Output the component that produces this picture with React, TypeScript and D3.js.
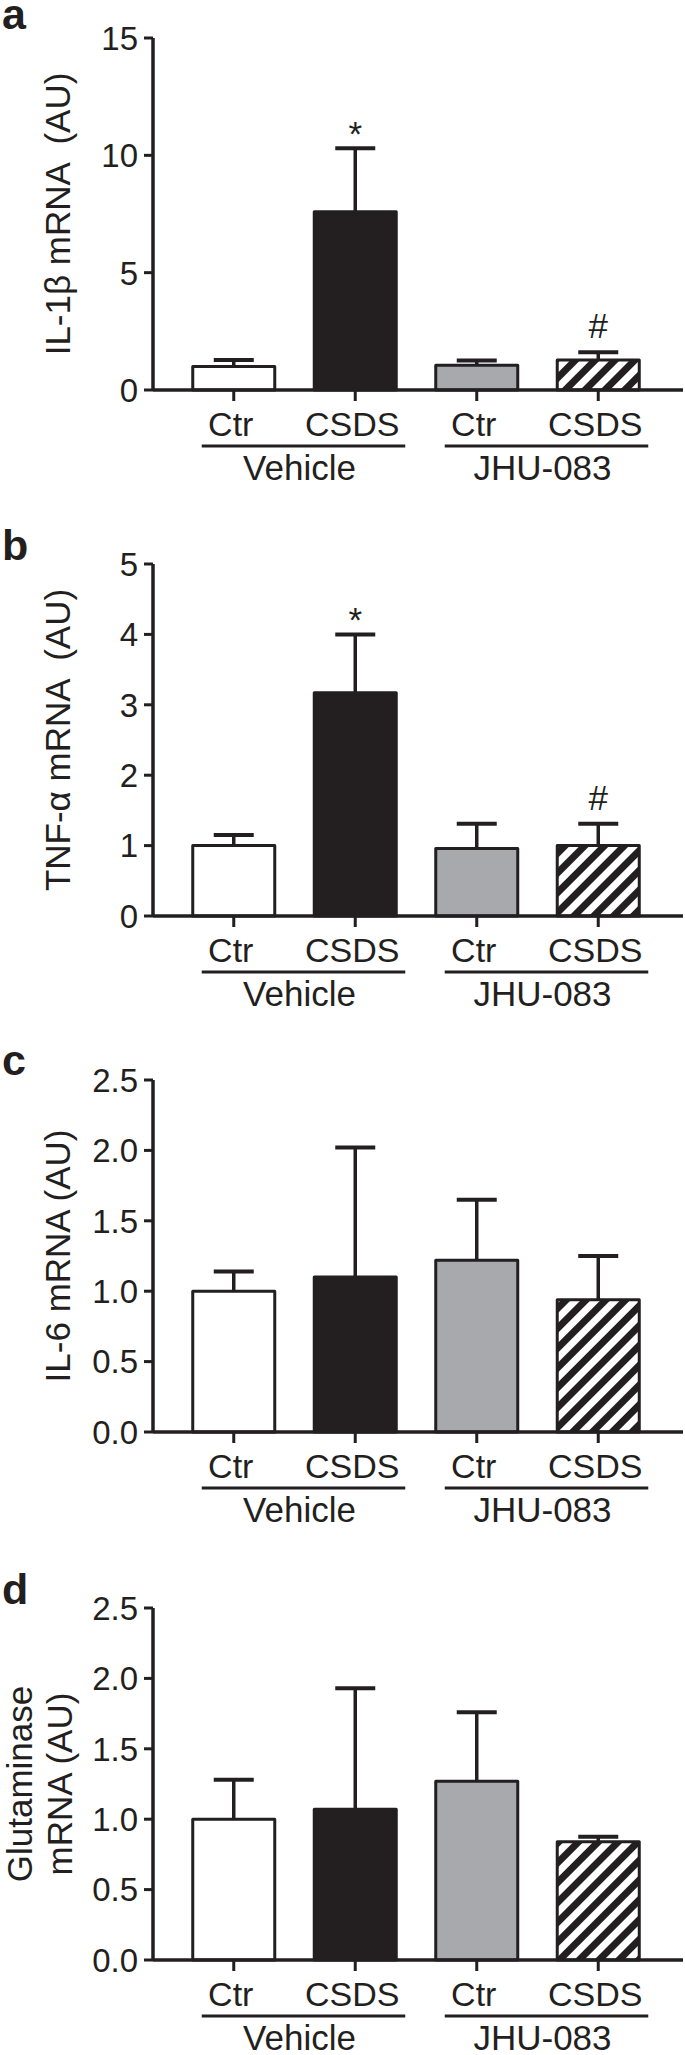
import { useEffect, useRef } from "react";
import * as d3 from "d3";

// values
const categories = ["Ctr", "CSDS", "Ctr", "CSDS"];
const groups = ["Vehicle", "JHU-083"];

const il1bMean = [1.0, 7.6, 1.05, 1.28];
const il1bErr = [1.28, 10.3, 1.26, 1.61];
const tnfMean = [1.0, 3.17, 0.96, 1.0];
const tnfErr = [1.15, 4.0, 1.31, 1.31];
const il6Mean = [1.0, 1.1, 1.22, 0.94];
const il6Err = [1.14, 2.02, 1.65, 1.25];
const glsMean = [1.0, 1.07, 1.27, 0.84];
const glsErr = [1.28, 1.93, 1.76, 0.875];

const ticksA = [0, 5, 10, 15];
const ticksB = [0, 1, 2, 3, 4, 5];
const ticksCD = [0, 0.5, 1.0, 1.5, 2.0, 2.5];

// significance marks (index of bar, symbol)
const marksA: [number, string][] = [[1, "*"], [3, "#"]];
const marksB: [number, string][] = [[1, "*"], [3, "#"]];

const panels = [
  { letter: "a", title: ["IL-1β mRNA  (AU)"], mean: il1bMean, err: il1bErr, ticks: ticksA, fmt: "d", marks: marksA },
  { letter: "b", title: ["TNF-α mRNA  (AU)"], mean: tnfMean, err: tnfErr, ticks: ticksB, fmt: "d", marks: marksB },
  { letter: "c", title: ["IL-6 mRNA (AU)"], mean: il6Mean, err: il6Err, ticks: ticksCD, fmt: ".1f", marks: [] as [number, string][] },
  { letter: "d", title: ["Glutaminase", "mRNA (AU)"], mean: glsMean, err: glsErr, ticks: ticksCD, fmt: ".1f", marks: [] as [number, string][] },
];

const panelTops = [38, 564, 1080, 1608];
const letterY = [29, 560, 1075, 1604];
const INK = "#231f20";
const FILLS = ["#ffffff", INK, "#a7a9ac", "url(#hatch)"];
const FONT = "'Liberation Sans', Arial, Helvetica, sans-serif";

export default function App() {
  const svgRef = useRef<SVGSVGElement>(null);

  useEffect(() => {
    if (!svgRef.current) return;
    const svg = d3.select(svgRef.current);
    svg.selectAll("*").remove();

    const W = 685, H = 2055;
    const axisX = 153, axisRight = 683, plotH = 352;
    svg.attr("width", W).attr("height", H).attr("font-family", FONT);

    const pat = svg.append("defs").append("pattern")
      .attr("id", "hatch").attr("patternUnits", "userSpaceOnUse")
      .attr("width", 14).attr("height", 14)
      .attr("patternTransform", "rotate(45)");
    pat.append("rect").attr("width", 14).attr("height", 14).attr("fill", "#fff");
    pat.append("rect").attr("width", 7).attr("height", 14).attr("fill", INK);

    const x = d3.scaleBand<number>()
      .domain(d3.range(categories.length))
      .range([173, 659])
      .paddingInner(0.325)
      .paddingOuter(0.1625);
    const bw = x.bandwidth();
    const cx = (i: number) => (x(i) ?? 0) + bw / 2;

    panels.forEach((p, pi) => {
      const top = panelTops[pi];
      const zero = top + plotH;
      const y = d3.scaleLinear().domain([0, p.ticks[p.ticks.length - 1]]).range([zero, top]);
      const g = svg.append("g");

      // panel letter
      g.append("text").attr("x", 2).attr("y", letterY[pi])
        .attr("font-size", 43).attr("font-weight", "bold").attr("fill", INK)
        .text(p.letter);

      // y title
      const midY = (top + zero) / 2;
      const lines = p.title;
      lines.forEach((t, li) => {
        const bx = lines.length === 1 ? 70 : 32 + li * 40;
        g.append("text")
          .attr("transform", `translate(${bx},${midY}) rotate(-90)`)
          .attr("text-anchor", "middle")
          .attr("font-size", 35).attr("fill", INK)
          .style("white-space", "pre")
          .text(t);
      });

      // bars
      g.selectAll(".bar").data(p.mean).enter().append("rect")
        .attr("x", (_, i) => x(i) ?? 0)
        .attr("y", (d) => y(d))
        .attr("width", bw)
        .attr("height", (d) => zero - y(d))
        .attr("fill", (_, i) => FILLS[i])
        .attr("stroke", INK).attr("stroke-width", 3)
        .attr("stroke-linejoin", "round");

      // error bars
      p.err.forEach((e, i) => {
        g.append("line")
          .attr("x1", cx(i)).attr("x2", cx(i))
          .attr("y1", y(p.mean[i])).attr("y2", y(e))
          .attr("stroke", INK).attr("stroke-width", 3.5);
        g.append("line")
          .attr("x1", cx(i) - 20).attr("x2", cx(i) + 20)
          .attr("y1", y(e)).attr("y2", y(e))
          .attr("stroke", INK).attr("stroke-width", 4);
      });

      // significance marks
      p.marks.forEach(([i, s]) => {
        g.append("text")
          .attr("x", cx(i)).attr("y", y(p.err[i]) - (s === "*" ? 2 : 14))
          .attr("text-anchor", "middle").attr("font-size", 35).attr("fill", INK)
          .text(s);
      });

      // axes
      g.append("line").attr("x1", axisX).attr("x2", axisX).attr("y1", top).attr("y2", zero)
        .attr("stroke", INK).attr("stroke-width", 3.5);
      g.append("line").attr("x1", axisX).attr("x2", axisRight).attr("y1", zero).attr("y2", zero)
        .attr("stroke", INK).attr("stroke-width", 3.5);

      const fmt = d3.format(p.fmt);
      p.ticks.forEach((t) => {
        g.append("line").attr("x1", axisX - 9).attr("x2", axisX)
          .attr("y1", y(t)).attr("y2", y(t)).attr("stroke", INK).attr("stroke-width", 3);
        g.append("text").attr("x", axisX - 15).attr("y", y(t)).attr("dy", "0.36em")
          .attr("text-anchor", "end").attr("font-size", 33).attr("fill", INK)
          .text(fmt(t));
      });

      categories.forEach((c, i) => {
        g.append("line").attr("x1", cx(i)).attr("x2", cx(i))
          .attr("y1", zero).attr("y2", zero + 11).attr("stroke", INK).attr("stroke-width", 3);
        g.append("text").attr("x", cx(i) - 3).attr("y", zero + 46)
          .attr("text-anchor", "middle").attr("font-size", 34).attr("fill", INK)
          .text(c);
      });

      groups.forEach((gr, gi) => {
        const a = gi * 2, b = gi * 2 + 1;
        const x0 = (x(a) ?? 0) + 9;
        const x1 = (x(b) ?? 0) + bw + 9;
        g.append("line").attr("x1", x0).attr("x2", x1)
          .attr("y1", zero + 56).attr("y2", zero + 56)
          .attr("stroke", INK).attr("stroke-width", 3);
        g.append("text").attr("x", (cx(a) + cx(b)) / 2 + 5).attr("y", zero + 90)
          .attr("text-anchor", "middle").attr("font-size", 35).attr("fill", INK)
          .text(gr);
      });
    });
  }, []);

  return (
    <div style={{ position: "absolute", left: 0, top: 0, background: "#fff" }}>
      <svg ref={svgRef} style={{ display: "block" }} />
    </div>
  );
}
